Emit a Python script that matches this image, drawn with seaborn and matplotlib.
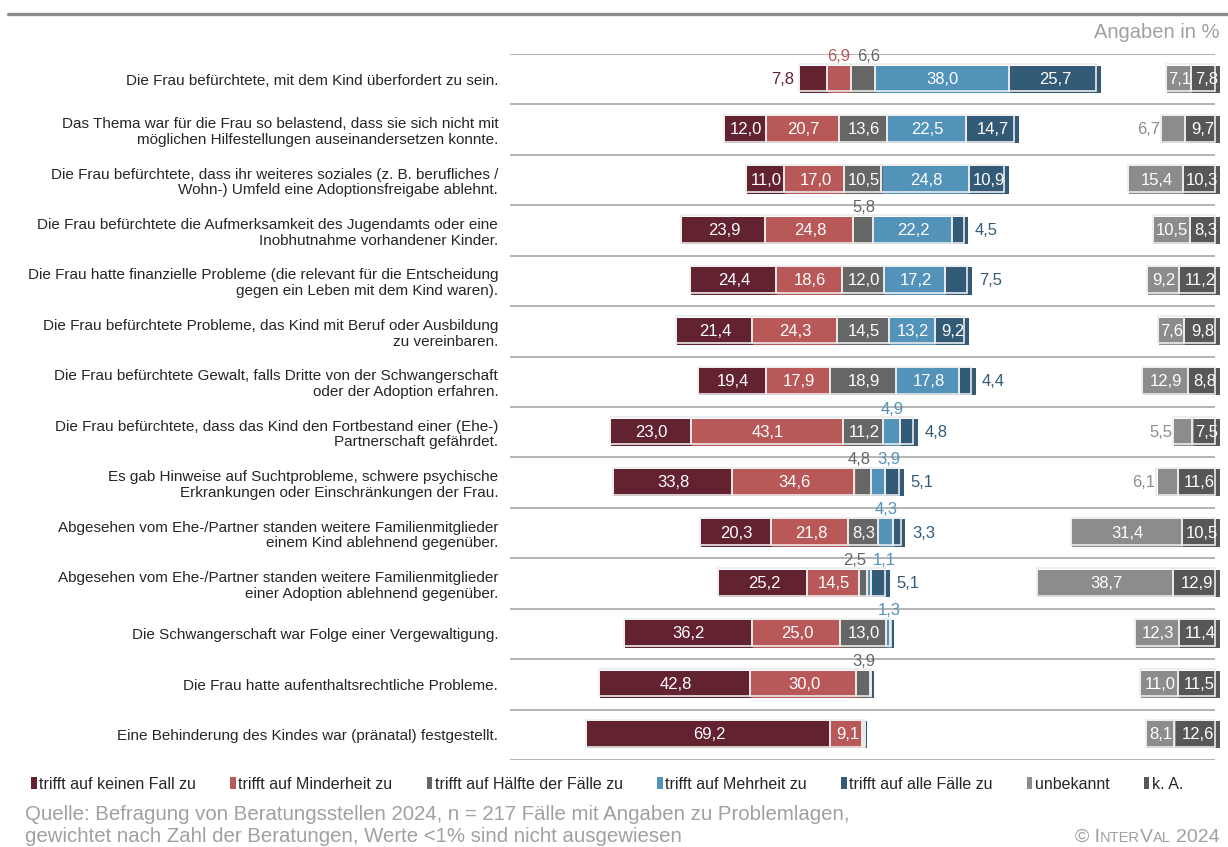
import matplotlib
matplotlib.use("Agg")
import matplotlib.pyplot as plt
from matplotlib.lines import Line2D
from matplotlib.patches import Patch
import numpy as np
import pandas as pd
import seaborn as sns

# --- data (percent) ---------------------------------------------------------
labels = [
    "Die Frau befürchtete, mit dem Kind überfordert zu sein.",
    "Das Thema war für die Frau so belastend, dass sie sich nicht mit\nmöglichen Hilfestellungen auseinandersetzen konnte.",
    "Die Frau befürchtete, dass ihr weiteres soziales (z. B. berufliches /\nWohn-) Umfeld eine Adoptionsfreigabe ablehnt.",
    "Die Frau befürchtete die Aufmerksamkeit des Jugendamts oder eine\nInobhutnahme vorhandener Kinder.",
    "Die Frau hatte finanzielle Probleme (die relevant für die Entscheidung\ngegen ein Leben mit dem Kind waren).",
    "Die Frau befürchtete Probleme, das Kind mit Beruf oder Ausbildung\nzu vereinbaren.",
    "Die Frau befürchtete Gewalt, falls Dritte von der Schwangerschaft\noder der Adoption erfahren.",
    "Die Frau befürchtete, dass das Kind den Fortbestand einer (Ehe-)\nPartnerschaft gefährdet.",
    "Es gab Hinweise auf Suchtprobleme, schwere psychische\nErkrankungen oder Einschränkungen der Frau.",
    "Abgesehen vom Ehe-/Partner standen weitere Familienmitglieder\neinem Kind ablehnend gegenüber.",
    "Abgesehen vom Ehe-/Partner standen weitere Familienmitglieder\neiner Adoption ablehnend gegenüber.",
    "Die Schwangerschaft war Folge einer Vergewaltigung.",
    "Die Frau hatte aufenthaltsrechtliche Probleme.",
    "Eine Behinderung des Kindes war (pränatal) festgestellt.",
]
keinen = [7.8, 12.0, 11.0, 23.9, 24.4, 21.4, 19.4, 23.0, 33.8, 20.3, 25.2, 36.2, 42.8, 69.2]
minderheit = [6.9, 20.7, 17.0, 24.8, 18.6, 24.3, 17.9, 43.1, 34.6, 21.8, 14.5, 25.0, 30.0, 9.1]
haelfte = [6.6, 13.6, 10.5, 5.8, 12.0, 14.5, 18.9, 11.2, 4.8, 8.3, 2.5, 13.0, 3.9, 0.3]
mehrheit = [38.0, 22.5, 24.8, 22.2, 17.2, 13.2, 17.8, 4.9, 3.9, 4.3, 1.1, 1.3, 0.4, 0.4]
alle = [25.7, 14.7, 10.9, 4.5, 7.5, 9.2, 4.4, 4.8, 5.1, 3.3, 5.1, 0.8, 0.4, 0.3]
unbekannt = [7.1, 6.7, 15.4, 10.5, 9.2, 7.6, 12.9, 5.5, 6.1, 31.4, 38.7, 12.3, 11.0, 8.1]
k_a = [7.8, 9.7, 10.3, 8.3, 11.2, 9.8, 8.8, 7.5, 11.6, 10.5, 12.9, 11.4, 11.5, 12.6]

series_names = ["trifft auf keinen Fall zu", "trifft auf Minderheit zu",
                "trifft auf Hälfte der Fälle zu", "trifft auf Mehrheit zu",
                "trifft auf alle Fälle zu", "unbekannt", "k. A."]
colors = ["#62222F", "#B85858", "#666666", "#5393BA", "#335B78", "#8C8C8C", "#575757"]
GREY_TXT = "#A0A0A0"

df = pd.DataFrame({"label": labels, "keinen": keinen, "minderheit": minderheit,
                   "haelfte": haelfte, "mehrheit": mehrheit, "alle": alle,
                   "unbekannt": unbekannt, "ka": k_a})

sns.set_theme(style="white")
plt.rcParams["font.family"] = ["Liberation Sans", "DejaVu Sans"]

W, H = 1228, 847
PX = 3.53          # pixels per percent
CENTER = 864       # pixel x of the diverging midpoint
AX_L, AX_R = 510, 1222
RIGHT_END = (1220 - CENTER) / PX
BAR_H = 0.54

fig = plt.figure(figsize=(W / 100, H / 100), dpi=100)
ax = fig.add_axes([AX_L / W, 1 - 760 / H, (AX_R - AX_L) / W, 706 / H])
xlim = ((AX_L - CENTER) / PX, (AX_R - CENTER) / PX)


def fmt(v):
    return f"{v:.1f}".replace(".", ",")


# --- main diverging bars (overlapping cumulative bars) ----------------------
half = df["haelfte"] / 2
layers = [
    (-(df["keinen"] + df["minderheit"] + half), colors[0]),
    (-(df["minderheit"] + half), colors[1]),
    (-half, colors[2]),
    (half + df["mehrheit"] + df["alle"], colors[4]),
    (half + df["mehrheit"], colors[3]),
    (half, colors[2]),
]
for vals, c in layers:
    sns.barplot(x=vals, y=df["label"], orient="h", color=c, saturation=1,
                width=BAR_H, edgecolor="none", linewidth=0, errorbar=None, ax=ax)

n = len(df)
ax.hlines(np.arange(-0.5, n), xlim[0], (1215 - CENTER) / PX,
          color="#A8A8A8", lw=1.2, zorder=0)

for i, r in df.iterrows():
    widths = [r.keinen, r.minderheit, r.haelfte, r.mehrheit, r.alle]
    lefts = np.concatenate([[-(r.keinen + r.minderheit + r.haelfte / 2)],
                            -(r.keinen + r.minderheit + r.haelfte / 2) + np.cumsum(widths)[:-1]])
    # white outline layer (slightly shifted, like the original)
    ow = np.array(widths, dtype=float)
    ow[-1] = max(ow[-1] - 1.1, 0.05)
    ax.barh([i - 0.03] * 5, ow, left=lefts - 0.3, height=BAR_H, fill=False,
            edgecolor="#EBEBEB", lw=1.2, zorder=3)

    above = []
    for j, (l, w) in enumerate(zip(lefts, widths)):
        if w < 1:
            continue
        thr = 8 if j in (0, 4) else 7
        if w >= thr:
            ax.text(l + w / 2, i, fmt(w), ha="center", va="center",
                    color="white", fontsize=12, zorder=4)
        elif j == 0:
            ax.text(l - 1.8, i, fmt(w), ha="right", va="center",
                    color=colors[0], fontsize=12, zorder=4)
        elif j == 4:
            ax.text(l + w + 1.8, i, fmt(w), ha="left", va="center",
                    color=colors[4], fontsize=12, zorder=4)
        else:
            above.append((j, l, w))
    for k, (j, l, w) in enumerate(above):
        x, ha = l + w / 2, "center"
        if k + 1 < len(above) and above[k + 1][0] == j + 1:
            x, ha = l + w - 0.6, "right"
        if k > 0 and above[k - 1][0] == j - 1:
            x, ha = l + 1.3, "left"
        ax.text(x, i - 0.37, fmt(w), ha=ha, va="baseline",
                color=colors[j], fontsize=12, zorder=4, clip_on=False)

# --- right block: unbekannt / k. A. -----------------------------------------
ax2 = ax.twiny()
sns.barplot(x=-(df["unbekannt"] + df["ka"]), y=df["label"], orient="h",
            color=colors[5], saturation=1, width=BAR_H, edgecolor="none",
            linewidth=0, errorbar=None, ax=ax2)
sns.barplot(x=-df["ka"], y=df["label"], orient="h", color=colors[6],
            saturation=1, width=BAR_H, edgecolor="none", linewidth=0,
            errorbar=None, ax=ax2)
for i, r in df.iterrows():
    lefts = np.array([-(r.unbekannt + r.ka), -r.ka])
    ow = np.array([r.unbekannt, max(r.ka - 1.1, 0.05)])
    ax2.barh([i - 0.03] * 2, ow, left=lefts - 0.3, height=BAR_H, fill=False,
             edgecolor="#EBEBEB", lw=1.2, zorder=3)
    if r.unbekannt >= 7:
        ax2.text(-r.ka - r.unbekannt / 2, i, fmt(r.unbekannt), ha="center",
                 va="center", color="white", fontsize=12, zorder=4)
    else:
        ax2.text(-r.ka - r.unbekannt - 0.6, i, fmt(r.unbekannt), ha="right",
                 va="center", color=colors[5], fontsize=12, zorder=4)
    ax2.text(-r.ka / 2, i, fmt(r.ka), ha="center", va="center",
             color="white", fontsize=12, zorder=4)
ax2.set_xlim(xlim[0] - RIGHT_END, xlim[1] - RIGHT_END)
ax2.set_axis_off()

ax.set_xlim(*xlim)
ax.set_ylim(n - 0.5, -0.5)
ax.set_yticks(range(n))
ax.set_yticklabels(labels, fontsize=11, linespacing=1.15)
ax.tick_params(axis="y", length=0, pad=8.5)
ax.tick_params(axis="x", bottom=False, top=False, labelbottom=False, labeltop=False)
ax.set_xlabel("")
ax.set_ylabel("")
sns.despine(ax=ax, left=True, bottom=True)

# --- header / legend / footer ----------------------------------------------
fig.add_artist(Line2D([8 / W, 1], [1 - 14 / H] * 2, color="#8C8C8C", lw=2.4))
fig.text(1220 / W, 1 - 32 / H, "Angaben in %", ha="right", va="center",
         color=GREY_TXT, fontsize=14.5)

handles = [Patch(facecolor=c, edgecolor="none") for c in colors]
fig.legend(handles, series_names, ncol=7, loc="center left",
           bbox_to_anchor=(31 / W, 1 - 784 / H), frameon=False, fontsize=11.5,
           handlelength=0.35, handleheight=0.7, handletextpad=0.15,
           columnspacing=2.15, borderaxespad=0, borderpad=0)

fig.text(25 / W, 27 / H, "Quelle: Befragung von Beratungsstellen 2024, n = 217 Fälle mit Angaben zu Problemlagen,",
         ha="left", va="baseline", color=GREY_TXT, fontsize=14.7)
fig.text(25 / W, 5 / H, "gewichtet nach Zahl der Beratungen, Werte <1% sind nicht ausgewiesen",
         ha="left", va="baseline", color=GREY_TXT, fontsize=14.7)

# small-caps style copyright, built right to left
pieces = [("2024", 14, 0), ("AL", 10.5, -4), ("V", 14, 0), ("NTER", 10.5, 0), ("© I", 14, 0)]
prev = fig.text(1220 / W, 5 / H, pieces[0][0], ha="right", va="baseline",
                color=GREY_TXT, fontsize=pieces[0][1])
for txt, size, gap in pieces[1:]:
    prev = ax.annotate(txt, xy=(0, 5), xycoords=(prev, "figure pixels"),
                       xytext=(gap, 0), textcoords="offset points",
                       ha="right", va="baseline", color=GREY_TXT,
                       fontsize=size, annotation_clip=False)

fig.savefig("out.png", dpi=100)
